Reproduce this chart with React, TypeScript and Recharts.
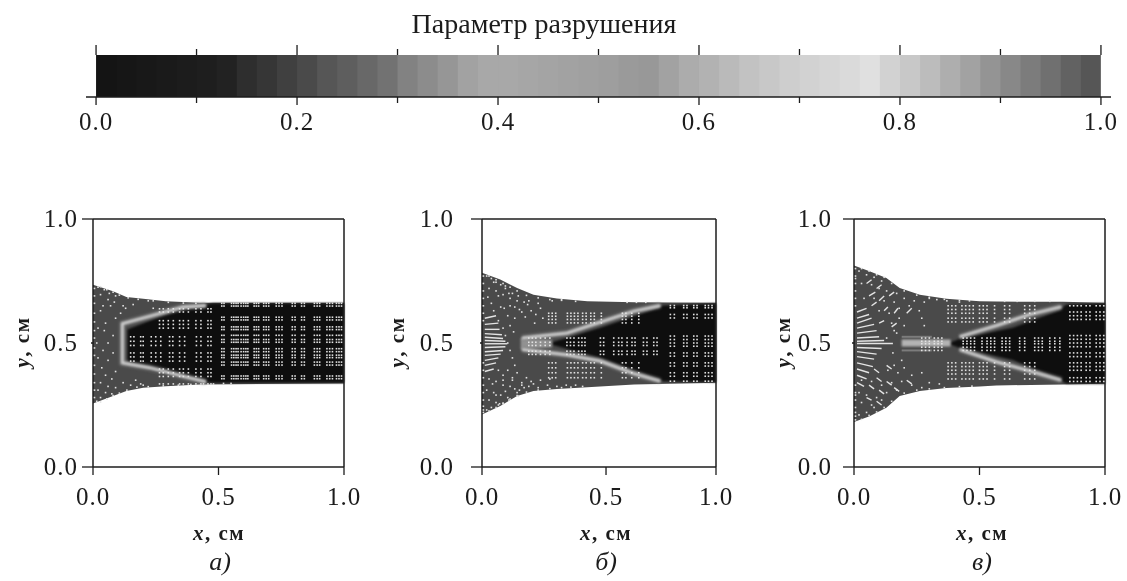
import React from "react";
import { Area, Bar, ComposedChart, Line, ReferenceLine, Scatter, XAxis, YAxis } from "recharts";

const SERIF = "'Liberation Serif', 'Times New Roman', serif";
const INK = "#1c1c1c";

// colour bar
const barCenters = [
  0.01, 0.03, 0.05, 0.07, 0.09, 0.11, 0.13, 0.15, 0.17, 0.19, 0.21, 0.23, 0.25, 0.27, 0.29, 0.31, 0.33,
  0.35, 0.37, 0.39, 0.41, 0.43, 0.45, 0.47, 0.49, 0.51, 0.53, 0.55, 0.57, 0.59, 0.61, 0.63, 0.65, 0.67,
  0.69, 0.71, 0.73, 0.75, 0.77, 0.79, 0.81, 0.83, 0.85, 0.87, 0.89, 0.91, 0.93, 0.95, 0.97, 0.99,
];
const barGrays = [
  "#141414", "#161616", "#181818", "#1a1a1a", "#1c1c1c", "#1e1e1e", "#222222", "#2e2e2e", "#363636", "#404040",
  "#4a4a4a", "#565656", "#5e5e5e", "#686868", "#727272", "#828282", "#8c8c8c", "#969696", "#a2a2a2", "#a8a8a8",
  "#a8a8a8", "#a6a6a6", "#a4a4a4", "#a2a2a2", "#a0a0a0", "#9e9e9e", "#9a9a9a", "#989898", "#a2a2a2", "#acacac",
  "#b2b2b2", "#bababa", "#c2c2c2", "#c8c8c8", "#cecece", "#d2d2d2", "#d6d6d6", "#dadada", "#e0e0e0", "#d2d2d2",
  "#c8c8c8", "#bcbcbc", "#aeaeae", "#a2a2a2", "#949494", "#888888", "#7c7c7c", "#707070", "#626262", "#565656",
];
const barTicks = [0, 0.1, 0.2, 0.3, 0.4, 0.5, 0.6, 0.7, 0.8, 0.9, 1];
const barMajor = [0, 0.2, 0.4, 0.6, 0.8, 1];

// panel a
const aEdgeX = [0, 0.08, 0.133, 0.2, 0.29, 0.425, 1];
const aEdgeTop = [0.735, 0.709, 0.685, 0.678, 0.668, 0.662, 0.662];
const aEdgeBot = [0.256, 0.286, 0.306, 0.32, 0.326, 0.333, 0.337];
const aCoreX = [0.137, 0.29, 0.425, 0.478, 1];
const aCoreTop = [0.554, 0.615, 0.651, 0.66, 0.66];
const aCoreBot = [0.42, 0.373, 0.346, 0.34, 0.34];
const aBandX = [0.45, 0.358, 0.226, 0.117, 0.117, 0.226, 0.358, 0.45];
const aBandY = [0.651, 0.645, 0.608, 0.578, 0.42, 0.4, 0.366, 0.343];
const aGridX = [
  0.513, 0.522, 0.552, 0.561, 0.57, 0.578, 0.59, 0.6, 0.609, 0.617, 0.642, 0.651, 0.66, 0.68, 0.69, 0.7, 0.73,
  0.741, 0.753, 0.794, 0.805, 0.831, 0.842, 0.882, 0.893, 0.903, 0.932, 0.943, 0.954, 0.97, 0.98, 0.99,
];
const aGridY = [0.66, 0.649, 0.604, 0.593, 0.565, 0.554, 0.531, 0.514, 0.503, 0.477, 0.465, 0.451, 0.441, 0.423, 0.411, 0.367, 0.356];
const aMidX = [0.15, 0.163, 0.19, 0.2, 0.232, 0.25, 0.27, 0.305, 0.318, 0.345, 0.365, 0.412, 0.43, 0.458, 0.47];
const aMidY = [0.525, 0.507, 0.49, 0.46, 0.444, 0.427];
const aSideX = [0.265, 0.28, 0.3, 0.32, 0.345, 0.36, 0.38, 0.41, 0.43, 0.458, 0.47];
const aSideY = [0.638, 0.625, 0.59, 0.575, 0.56, 0.395, 0.38, 0.365, 0.335];
const aDotX = [
  0.02, 0.045, 0.065, 0.09, 0.03, 0.06, 0.085, 0.04, 0.07, 0.12, 0.03, 0.11, 0.09, 0.05, 0.02, 0.045, 0.08, 0.06, 0.015, 0.04,
  0.08, 0.02, 0.06, 0.035, 0.09, 0.05, 0.075, 0.03, 0.06, 0.09, 0.02, 0.05, 0.075, 0.03, 0.055, 0.015, 0.12, 0.15, 0.17, 0.19,
  0.13, 0.16, 0.22, 0.24, 0.2,
];
const aDotY = [
  0.725, 0.715, 0.7, 0.69, 0.695, 0.675, 0.665, 0.65, 0.65, 0.65, 0.63, 0.62, 0.6, 0.58, 0.56, 0.55, 0.53, 0.5, 0.5, 0.47, 0.46,
  0.44, 0.43, 0.4, 0.385, 0.37, 0.355, 0.34, 0.325, 0.32, 0.31, 0.3, 0.295, 0.28, 0.275, 0.265, 0.34, 0.33, 0.35, 0.335, 0.64,
  0.655, 0.67, 0.64, 0.33,
];
const aRimX = [
  0.006, 0.006, 0.006, 0.006, 0.006, 0.006, 0.006, 0.006, 0.006, 0.006, 0.006, 0.006, 0.006, 0.006, 0.03, 0.055, 0.08, 0.105,
  0.14, 0.18, 0.24, 0.3, 0.36, 0.41, 0.03, 0.055, 0.08, 0.105, 0.135, 0.175, 0.22, 0.28, 0.34, 0.39, 0.44, 0.48, 0.52, 0.55,
];
const aRimY = [
  0.72, 0.69, 0.66, 0.62, 0.585, 0.55, 0.52, 0.48, 0.45, 0.41, 0.375, 0.34, 0.31, 0.28, 0.727, 0.715, 0.705, 0.693, 0.682, 0.676,
  0.67, 0.664, 0.661, 0.66, 0.262, 0.274, 0.288, 0.298, 0.31, 0.322, 0.324, 0.327, 0.33, 0.333, 0.335, 0.335, 0.337, 0.337,
];

// panel b
const bEdgeX = [0, 0.078, 0.15, 0.22, 0.32, 0.45, 0.65, 1];
const bEdgeTop = [0.783, 0.756, 0.722, 0.695, 0.679, 0.668, 0.664, 0.662];
const bEdgeBot = [0.212, 0.246, 0.286, 0.306, 0.315, 0.322, 0.333, 0.34];
const bCoreX = [0.3, 0.506, 0.648, 0.776, 1];
const bCoreTop = [0.503, 0.561, 0.608, 0.651, 0.659];
const bCoreBot = [0.493, 0.44, 0.39, 0.346, 0.342];
const bUpX = [0.762, 0.648, 0.506, 0.363, 0.171];
const bUpY = [0.651, 0.628, 0.584, 0.54, 0.52];
const bLowX = [0.171, 0.363, 0.506, 0.648, 0.762];
const bLowY = [0.474, 0.452, 0.427, 0.377, 0.346];
const bTipX = [0.165, 0.3];
const bTipLo = [0.474, 0.482];
const bTipHi = [0.52, 0.514];
const bGridX = [0.805, 0.822, 0.862, 0.876, 0.905, 0.919, 0.954, 0.968, 0.983];
const bGridY = [0.651, 0.642, 0.615, 0.601, 0.528, 0.514, 0.5, 0.487, 0.46, 0.447, 0.42, 0.407, 0.38, 0.366, 0.346];
const bMidX = [0.2, 0.215, 0.23, 0.25, 0.27, 0.29, 0.363, 0.378, 0.393, 0.413, 0.427, 0.44, 0.506, 0.52, 0.563, 0.584, 0.598, 0.62, 0.641, 0.654, 0.69, 0.705, 0.734, 0.748];
const bMidY = [0.52, 0.503, 0.49, 0.467, 0.454];
const bSideX = [0.285, 0.3, 0.315, 0.365, 0.38, 0.395, 0.41, 0.43, 0.445, 0.465, 0.48, 0.51, 0.6, 0.615, 0.64, 0.67];
const bSideY = [0.62, 0.608, 0.595, 0.581, 0.42, 0.4, 0.38, 0.36];
const bDotX = [
  0.02, 0.04, 0.06, 0.08, 0.1, 0.13, 0.03, 0.06, 0.09, 0.12, 0.15, 0.18, 0.04, 0.08, 0.12, 0.16, 0.2, 0.24, 0.11, 0.14, 0.17, 0.21,
  0.25, 0.12, 0.135, 0.07, 0.09, 0.1, 0.11, 0.12, 0.13, 0.14, 0.07, 0.09, 0.11, 0.13, 0.15, 0.17, 0.19, 0.22, 0.03, 0.06, 0.09, 0.12,
  0.16, 0.2, 0.24, 0.28, 0.32, 0.02, 0.05, 0.08, 0.11, 0.15, 0.03, 0.06, 0.09, 0.02, 0.04, 0.07, 0.36, 0.4, 0.3, 0.34,
  0.05, 0.1, 0.025, 0.07, 0.115, 0.155, 0.195, 0.23, 0.05, 0.095, 0.14, 0.185, 0.225, 0.26, 0.045, 0.09, 0.13, 0.17, 0.21, 0.25, 0.29, 0.06, 0.1, 0.14, 0.18, 0.075, 0.115, 0.155,
];
const bDotY = [
  0.77, 0.76, 0.745, 0.735, 0.72, 0.7, 0.72, 0.71, 0.695, 0.68, 0.67, 0.665, 0.66, 0.645, 0.65, 0.635, 0.67, 0.66, 0.61, 0.6, 0.625,
  0.63, 0.64, 0.57, 0.545, 0.59, 0.56, 0.53, 0.5, 0.47, 0.44, 0.41, 0.39, 0.37, 0.39, 0.36, 0.38, 0.34, 0.36, 0.335, 0.355, 0.345,
  0.33, 0.325, 0.31, 0.325, 0.32, 0.33, 0.325, 0.31, 0.3, 0.29, 0.28, 0.3, 0.27, 0.26, 0.255, 0.23, 0.24, 0.25, 0.33, 0.33, 0.67, 0.675,
  0.745, 0.73, 0.685, 0.69, 0.7, 0.69, 0.655, 0.615, 0.63, 0.64, 0.645, 0.605, 0.58, 0.6, 0.335, 0.35, 0.35, 0.33, 0.345, 0.35, 0.355, 0.29, 0.305, 0.315, 0.32, 0.255, 0.27, 0.285,
];
const bRimX = [
  0.006, 0.006, 0.006, 0.006, 0.006, 0.006, 0.006, 0.006, 0.006, 0.006, 0.006, 0.006, 0.006, 0.006, 0.006, 0.006, 0.03, 0.06, 0.09,
  0.12, 0.15, 0.19, 0.24, 0.29, 0.34, 0.4, 0.03, 0.06, 0.09, 0.12, 0.15, 0.19, 0.24, 0.29, 0.34, 0.38, 0.43, 0.62, 0.66, 0.7,
];
const bRimY = [
  0.77, 0.74, 0.71, 0.68, 0.65, 0.62, 0.59, 0.42, 0.39, 0.36, 0.33, 0.3, 0.27, 0.245, 0.23, 0.22, 0.77, 0.755, 0.74, 0.725, 0.71,
  0.692, 0.682, 0.675, 0.672, 0.668, 0.226, 0.24, 0.258, 0.274, 0.288, 0.302, 0.31, 0.316, 0.32, 0.322, 0.325, 0.664, 0.664, 0.664,
];
const bRays = [
  [0.012, 0.6, 0.06, 0.61],
  [0.012, 0.575, 0.07, 0.58],
  [0.012, 0.555, 0.075, 0.555],
  [0.012, 0.538, 0.085, 0.533],
  [0.012, 0.523, 0.09, 0.518],
  [0.012, 0.51, 0.1, 0.507],
  [0.012, 0.497, 0.108, 0.497],
  [0.012, 0.482, 0.1, 0.485],
  [0.012, 0.465, 0.09, 0.47],
  [0.012, 0.45, 0.08, 0.455],
  [0.012, 0.43, 0.07, 0.44],
  [0.012, 0.41, 0.06, 0.42],
  [0.012, 0.385, 0.05, 0.395],
];

// panel c
const cEdgeX = [0, 0.062, 0.129, 0.182, 0.262, 0.368, 0.5, 0.567, 0.833, 1];
const cEdgeTop = [0.813, 0.789, 0.762, 0.722, 0.695, 0.678, 0.668, 0.667, 0.666, 0.662];
const cEdgeBot = [0.181, 0.205, 0.239, 0.286, 0.306, 0.319, 0.325, 0.329, 0.333, 0.336];
const cCoreX = [0.381, 0.421, 0.633, 0.819, 0.846, 1];
const cCoreTop = [0.5, 0.517, 0.561, 0.632, 0.655, 0.659];
const cCoreBot = [0.496, 0.48, 0.431, 0.352, 0.337, 0.336];
const cUpX = [0.826, 0.7, 0.567, 0.421];
const cUpY = [0.646, 0.615, 0.57, 0.525];
const cLowX = [0.421, 0.567, 0.7, 0.826];
const cLowY = [0.474, 0.424, 0.387, 0.35];
const cTipX = [0.19, 0.3, 0.385];
const cTipLo = [0.486, 0.486, 0.486];
const cTipHi = [0.514, 0.514, 0.514];
const cStripeX = [0.19, 0.31];
const cStripeHi = [0.525, 0.525];
const cStripeLo = [0.47, 0.47];
const cGridX = [0.86, 0.875, 0.89, 0.905, 0.925, 0.94, 0.965, 0.98, 0.995];
const cGridY = [0.65, 0.625, 0.61, 0.595, 0.53, 0.515, 0.5, 0.485, 0.46, 0.445, 0.42, 0.405, 0.39, 0.36, 0.345];
const cMidX = [0.27, 0.285, 0.3, 0.32, 0.335, 0.35, 0.435, 0.45, 0.465, 0.48, 0.51, 0.53, 0.545, 0.56, 0.59, 0.605, 0.62, 0.66, 0.68, 0.72, 0.735, 0.75, 0.78, 0.8, 0.82];
const cMidY = [0.52, 0.507, 0.497, 0.483, 0.47];
const cSideX = [0.375, 0.39, 0.405, 0.43, 0.445, 0.46, 0.475, 0.5, 0.515, 0.53, 0.56, 0.6, 0.62, 0.68, 0.7, 0.72];
const cSideY = [0.65, 0.635, 0.62, 0.6, 0.585, 0.42, 0.405, 0.39, 0.375, 0.355];
const cDotX = [
  0.02, 0.05, 0.08, 0.11, 0.03, 0.07, 0.1, 0.13, 0.17, 0.04, 0.08, 0.12, 0.16, 0.2, 0.24, 0.28, 0.1, 0.14, 0.18, 0.22, 0.26, 0.15, 0.18, 0.2,
  0.16, 0.13, 0.17, 0.155, 0.27, 0.28, 0.19, 0.16, 0.135, 0.175, 0.2, 0.23, 0.27, 0.03, 0.07, 0.11, 0.15, 0.19, 0.23, 0.27, 0.3, 0.34, 0.02, 0.05,
  0.09, 0.13, 0.17, 0.03, 0.07, 0.11, 0.02, 0.05, 0.08, 0.3, 0.33, 0.37, 0.42, 0.46,
];
const cDotY = [
  0.79, 0.775, 0.765, 0.75, 0.74, 0.735, 0.72, 0.71, 0.7, 0.68, 0.68, 0.67, 0.665, 0.68, 0.67, 0.665, 0.63, 0.62, 0.64, 0.65, 0.63, 0.58, 0.6,
  0.57, 0.55, 0.52, 0.54, 0.46, 0.6, 0.57, 0.43, 0.41, 0.39, 0.38, 0.4, 0.37, 0.38, 0.35, 0.345, 0.33, 0.34, 0.345, 0.33, 0.32, 0.34, 0.335, 0.3,
  0.29, 0.28, 0.3, 0.31, 0.26, 0.25, 0.27, 0.21, 0.22, 0.24, 0.68, 0.675, 0.67, 0.665, 0.67,
];
const cRimX = [
  0.006, 0.006, 0.006, 0.006, 0.006, 0.006, 0.006, 0.006, 0.006, 0.006, 0.006, 0.006, 0.006, 0.006, 0.006, 0.03, 0.06, 0.09, 0.12, 0.15, 0.2,
  0.25, 0.3, 0.36, 0.42, 0.03, 0.06, 0.09, 0.12, 0.15, 0.2, 0.25, 0.3, 0.36, 0.42, 0.47, 0.6, 0.65, 0.72, 0.78,
];
const cRimY = [
  0.8, 0.77, 0.74, 0.71, 0.68, 0.65, 0.33, 0.3, 0.27, 0.24, 0.22, 0.205, 0.19, 0.76, 0.29, 0.8, 0.79, 0.775, 0.765, 0.74, 0.71, 0.693, 0.684,
  0.676, 0.672, 0.192, 0.208, 0.222, 0.24, 0.265, 0.298, 0.31, 0.315, 0.32, 0.324, 0.326, 0.668, 0.668, 0.668, 0.668,
];
const cRays = [
  [0.012, 0.625, 0.05, 0.64],
  [0.012, 0.6, 0.06, 0.615],
  [0.012, 0.58, 0.07, 0.6],
  [0.012, 0.56, 0.08, 0.575],
  [0.012, 0.54, 0.09, 0.55],
  [0.012, 0.52, 0.1, 0.525],
  [0.012, 0.507, 0.12, 0.51],
  [0.012, 0.498, 0.155, 0.498],
  [0.012, 0.482, 0.11, 0.478],
  [0.012, 0.465, 0.09, 0.455],
  [0.012, 0.445, 0.08, 0.435],
  [0.012, 0.42, 0.075, 0.405],
  [0.012, 0.395, 0.06, 0.38],
  [0.012, 0.37, 0.05, 0.355],
  [0.012, 0.34, 0.04, 0.325],
  [0.05, 0.74, 0.07, 0.755],
  [0.09, 0.72, 0.11, 0.735],
  [0.06, 0.69, 0.085, 0.705],
  [0.1, 0.67, 0.12, 0.69],
  [0.14, 0.69, 0.16, 0.705],
  [0.07, 0.65, 0.09, 0.665],
  [0.12, 0.63, 0.135, 0.645],
  [0.16, 0.62, 0.175, 0.64],
  [0.21, 0.62, 0.23, 0.64],
  [0.1, 0.58, 0.12, 0.59],
  [0.15, 0.565, 0.17, 0.58],
  [0.08, 0.395, 0.1, 0.38],
  [0.13, 0.41, 0.15, 0.395],
  [0.09, 0.36, 0.11, 0.345],
  [0.13, 0.345, 0.15, 0.33],
  [0.06, 0.33, 0.08, 0.315],
  [0.1, 0.31, 0.12, 0.295],
  [0.16, 0.32, 0.18, 0.305],
  [0.21, 0.35, 0.23, 0.335],
  [0.05, 0.28, 0.07, 0.27],
  [0.09, 0.265, 0.11, 0.25],
];

const cross = (xs: number[], ys: number[]) => xs.flatMap((x) => ys.map((y) => ({ x, y })));
const pairs = (xs: number[], ys: number[]) => xs.map((x, i) => ({ x, y: ys[i] }));
const bands = (xs: number[], lo: number[], hi: number[]) => xs.map((x, i) => ({ x, range: [lo[i], hi[i]] }));

const SpeckShape = (props: any) => (
  <rect x={props.cx - 0.8} y={props.cy - 0.8} width={1.6} height={1.6} fill="#e2e2e2" />
);

// cells overlap a little so no white seams show between them
const BarCell = ({ x, y, width, height, index }: any) => (
  <rect x={x} y={y} width={index === barGrays.length - 1 ? width : width + 3} height={height} fill={barGrays[index]} />
);

const TICK_FONT = { fontFamily: SERIF, fontSize: 25, letterSpacing: 1, fill: INK };

const BarBottomTick = ({ x, y, payload }: any) => {
  const major = barMajor.includes(payload.value);
  return (
    <g>
      <line x1={x} x2={x} y1={y} y2={y + (major ? 8 : 6)} stroke={INK} strokeWidth={1.3} />
      {major && (
        <text x={x} y={y + 33} textAnchor="middle" {...TICK_FONT}>
          {payload.value.toFixed(1)}
        </text>
      )}
    </g>
  );
};

const BarTopTick = ({ x, y, payload }: any) => {
  const major = barMajor.includes(payload.value);
  return <line x1={x} x2={x} y1={y} y2={y - (major ? 10 : 6)} stroke={INK} strokeWidth={1.3} />;
};

const ColorBar = () => (
  <div style={{ position: "absolute", left: 46, top: 43 }}>
    <ComposedChart
      width={1105}
      height={100}
      data={barCenters.map((x) => ({ x, v: 1 }))}
      margin={{ top: 0, right: 40, bottom: 0, left: 40 }}
    >
      <XAxis
        dataKey="x"
        type="number"
        domain={[-0.01, 1.01]}
        ticks={barTicks}
        height={46}
        interval={0}
        tickSize={0}
        tickMargin={0}
        tick={BarBottomTick}
        stroke={INK}
        strokeWidth={1.5}
      />
      <XAxis
        xAxisId="top"
        orientation="top"
        dataKey="x"
        type="number"
        domain={[-0.01, 1.01]}
        ticks={barTicks}
        height={12}
        interval={0}
        tickSize={0}
        tickMargin={0}
        tick={BarTopTick}
        axisLine={false}
      />
      <YAxis hide domain={[0, 1]} />
      <Bar dataKey="v" barSize={20} shape={BarCell} isAnimationActive={false} />
    </ComposedChart>
  </div>
);

type XY = { x: number; y: number };
type Band = { x: number; range: number[] };
type PanelProps = {
  left: number;
  width: number;
  labelGap: number;
  xTicks: number[];
  edge: Band[];
  core: Band[];
  tip?: Band[];
  tipFill?: string;
  lines: XY[][];
  stripes?: XY[][];
  specks: XY[];
  rays: number[][];
};

const Panel = ({ left, width, labelGap, xTicks, edge, core, tip, tipFill, lines, stripes = [], specks, rays }: PanelProps) => {
  const XTick = ({ x, y, index }: any) => (
    <g>
      <line x1={x} x2={x} y1={y} y2={y + 8} stroke={INK} strokeWidth={1.3} />
      <text x={x} y={y + 38} textAnchor="middle" {...TICK_FONT}>
        {["0.0", "0.5", "1.0"][index]}
      </text>
    </g>
  );
  const YTick = ({ x, y, payload }: any) => (
    <g>
      <line x1={x} x2={x - (payload.value === 0.5 ? 2 : 11)} y1={y} y2={y} stroke={INK} strokeWidth={1.3} />
      <text x={x - labelGap} y={y + 8} textAnchor="end" {...TICK_FONT}>
        {payload.value.toFixed(1)}
      </text>
    </g>
  );
  return (
    <div style={{ position: "absolute", left: left - 90, top: 189 }}>
      <ComposedChart width={width + 110} height={369} margin={{ top: 30, right: 20, bottom: 0, left: 0 }}>
        <XAxis
          dataKey="x"
          type="number"
          domain={[0, 1]}
          ticks={xTicks}
          interval={0}
          height={91}
          tickSize={0}
          tickMargin={0}
          tick={XTick}
          stroke={INK}
          strokeWidth={1.5}
        />
        <YAxis
          dataKey="y"
          type="number"
          domain={[0, 1]}
          ticks={[0, 0.5, 1]}
          interval={0}
          width={90}
          tickSize={0}
          tickMargin={0}
          tick={YTick}
          stroke={INK}
          strokeWidth={1.5}
        />
        <Area data={edge} dataKey="range" type="linear" fill="#4a4a4a" fillOpacity={1} stroke="none" isAnimationActive={false} dot={false} activeDot={false} />
        <Area data={core} dataKey="range" type="linear" fill="#0e0e0e" fillOpacity={1} stroke="none" isAnimationActive={false} dot={false} activeDot={false} style={{ filter: "blur(1px)" }} />
        {tip && (
          <Area data={tip} dataKey="range" type="linear" fill={tipFill} fillOpacity={1} stroke="none" isAnimationActive={false} dot={false} activeDot={false} style={{ filter: "blur(1px)" }} />
        )}
        {stripes.map((pts, i) => (
          <Line key={`s${i}`} data={pts} dataKey="y" type="linear" stroke="#7c7c7c" strokeWidth={2} dot={false} activeDot={false} isAnimationActive={false} />
        ))}
        {lines.map((pts, i) => (
          <Line key={`w${i}`} data={pts} dataKey="y" type="linear" stroke="#848484" strokeWidth={5} dot={false} activeDot={false} style={{ filter: "blur(1.6px)" }} isAnimationActive={false} />
        ))}
        {lines.map((pts, i) => (
          <Line key={`n${i}`} data={pts} dataKey="y" type="linear" stroke="#d8d8d8" strokeWidth={2.2} dot={false} activeDot={false} style={{ filter: "blur(0.8px)" }} isAnimationActive={false} />
        ))}
        {rays.map((r, i) => (
          <Line
            key={i}
            data={[{ x: r[0], y: r[1] }, { x: r[2], y: r[3] }]}
            dataKey="y"
            type="linear"
            stroke="#e4e4e4"
            strokeWidth={1.4}
            dot={false}
            activeDot={false}
            isAnimationActive={false}
          />
        ))}
        <Scatter data={specks} dataKey="y" shape={SpeckShape} isAnimationActive={false} />
        <ReferenceLine y={1} stroke={INK} strokeWidth={1.5} />
        <ReferenceLine x={1} stroke={INK} strokeWidth={1.5} />
      </ComposedChart>
    </div>
  );
};

const note = (left: number, top: number, children: React.ReactNode, extra: React.CSSProperties = {}) => (
  <div
    style={{
      position: "absolute",
      left,
      top,
      fontFamily: SERIF,
      color: INK,
      whiteSpace: "nowrap",
      lineHeight: 1,
      transform: "translate(-50%, -50%)",
      ...extra,
    }}
  >
    {children}
  </div>
);

const AxisName = ({ name }: { name: string }) => (
  <span style={{ fontWeight: 700, fontSize: 21, letterSpacing: 1.5 }}>
    <i>{name}</i>, см
  </span>
);

export default function App() {
  return (
    <div style={{ position: "absolute", left: 0, top: 0, width: 1127, height: 581, background: "#fff", overflow: "hidden", filter: "blur(0.35px)" }}>
      {note(544, 24, "Параметр разрушения", { fontSize: 28 })}
      <ColorBar />
      <Panel
        left={93}
        width={251}
        labelGap={15}
        xTicks={[0, 0.5, 1]}
        edge={bands(aEdgeX, aEdgeBot, aEdgeTop)}
        core={bands(aCoreX, aCoreBot, aCoreTop)}
        lines={[pairs(aBandX, aBandY)]}
        specks={[...cross(aGridX, aGridY), ...cross(aMidX, aMidY), ...cross(aSideX, aSideY), ...pairs(aDotX, aDotY), ...pairs(aRimX, aRimY)]}
        rays={[]}
      />
      <Panel
        left={482}
        width={234}
        labelGap={28}
        xTicks={[0, 0.53, 1]}
        edge={bands(bEdgeX, bEdgeBot, bEdgeTop)}
        core={bands(bCoreX, bCoreBot, bCoreTop)}
        tip={bands(bTipX, bTipLo, bTipHi)}
        tipFill="#929292"
        lines={[pairs(bUpX, bUpY), pairs(bLowX, bLowY)]}
        specks={[...cross(bGridX, bGridY), ...cross(bMidX, bMidY), ...cross(bSideX, bSideY), ...pairs(bDotX, bDotY), ...pairs(bRimX, bRimY)]}
        rays={bRays}
      />
      <Panel
        left={854}
        width={251}
        labelGap={22}
        xTicks={[0, 0.5, 1]}
        edge={bands(cEdgeX, cEdgeBot, cEdgeTop)}
        core={bands(cCoreX, cCoreBot, cCoreTop)}
        tip={bands(cTipX, cTipLo, cTipHi)}
        tipFill="#b4b4b4"
        stripes={[pairs(cStripeX, cStripeHi), pairs(cStripeX, cStripeLo)]}
        lines={[pairs(cUpX, cUpY), pairs(cLowX, cLowY)]}
        specks={[...cross(cGridX, cGridY), ...cross(cMidX, cMidY), ...cross(cSideX, cSideY), ...pairs(cDotX, cDotY), ...pairs(cRimX, cRimY)]}
        rays={cRays}
      />
      {note(22, 342, <AxisName name="y" />, { transform: "translate(-50%, -50%) rotate(-90deg)" })}
      {note(397, 342, <AxisName name="y" />, { transform: "translate(-50%, -50%) rotate(-90deg)" })}
      {note(783, 342, <AxisName name="y" />, { transform: "translate(-50%, -50%) rotate(-90deg)" })}
      {note(219, 533, <AxisName name="x" />)}
      {note(606, 533, <AxisName name="x" />)}
      {note(982, 533, <AxisName name="x" />)}
      {note(220, 562, "а)", { fontSize: 26, fontStyle: "italic" })}
      {note(606, 562, "б)", { fontSize: 26, fontStyle: "italic" })}
      {note(982, 562, "в)", { fontSize: 26, fontStyle: "italic" })}
    </div>
  );
}
